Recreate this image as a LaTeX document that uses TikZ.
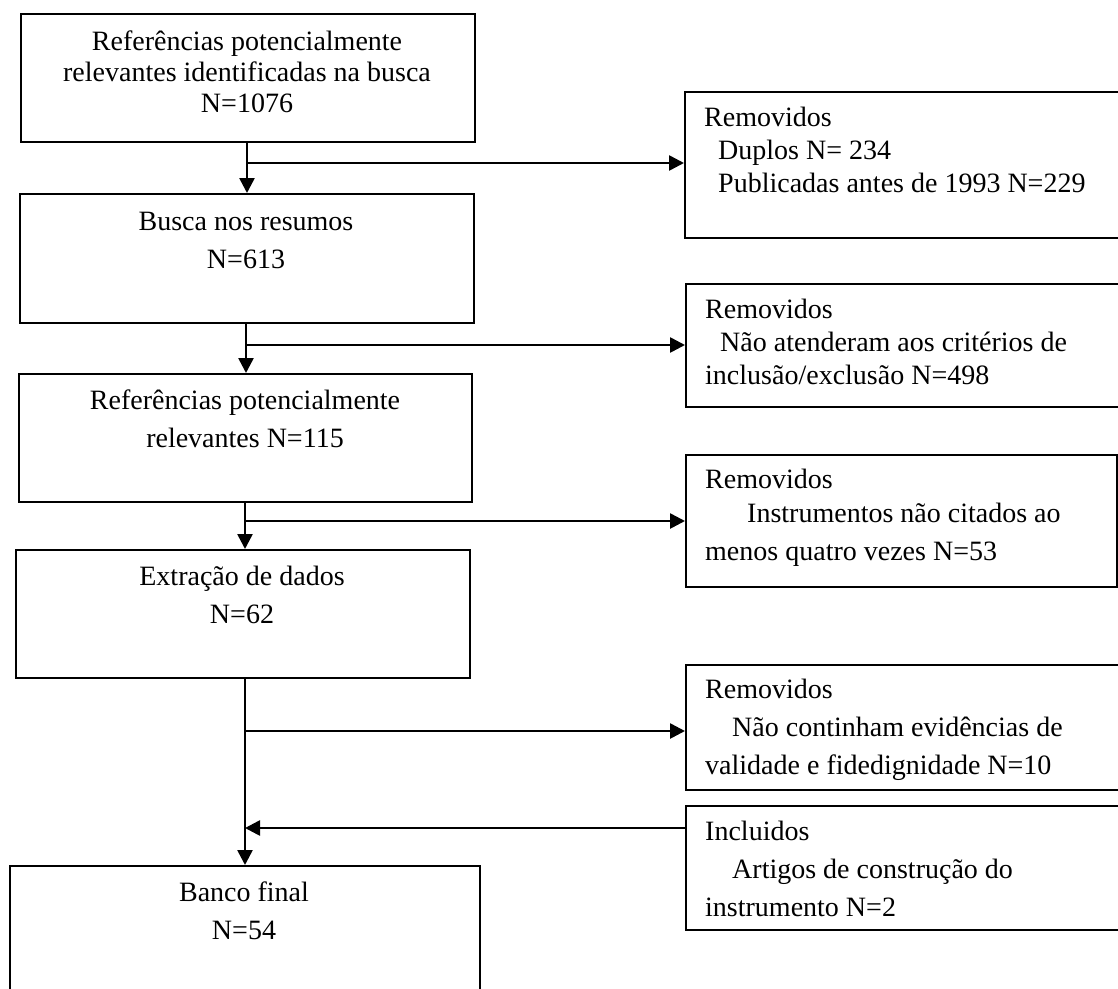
\documentclass[tikz,border=0pt]{standalone}
\usepackage{fontspec}
\setmainfont{Liberation Serif}
\usetikzlibrary{arrows.meta}
\begin{document}
\begin{tikzpicture}[x=1pt,y=-1pt,
  box/.style={draw=black,line width=2pt,rectangle,inner sep=0pt,anchor=north west},
  txt/.style={inner sep=0pt,font=\fontsize{28}{33}\selectfont},
  ctxt/.style={txt,anchor=base},
  ltxt/.style={txt,anchor=base west},
  conn/.style={line width=2.6pt},
  arr/.style={conn,-{Triangle[length=15pt,width=15pt]}}]
\useasboundingbox (0,0) rectangle (1118,988);
\clip (0,0) rectangle (1118,988);
% left column boxes
\node[box,minimum width=454pt,minimum height=128pt] (b1) at (20,13) {};
\node[box,minimum width=454pt,minimum height=129pt] (b2) at (19,193) {};
\node[box,minimum width=453pt,minimum height=128pt] (b3) at (18,373) {};
\node[box,minimum width=454pt,minimum height=128pt] (b4) at (15,549) {};
\node[box,minimum width=470pt,minimum height=140pt] (b5) at (9,865) {};
% right column boxes
\node[box,minimum width=460pt,minimum height=146pt] (r1) at (684,91) {};
\node[box,minimum width=460pt,minimum height=123pt] (r2) at (685,283) {};
\node[box,minimum width=431pt,minimum height=132pt] (r3) at (685,454) {};
\node[box,minimum width=460pt,minimum height=125pt] (r4) at (685,664) {};
\node[box,minimum width=460pt,minimum height=124pt] (r5) at (685,805) {};
% left texts
\node[ctxt] (t1a) at (247,50) {Referências potencialmente};
\node[ctxt] (t1b) at (247,81) {relevantes identificadas na busca};
\node[ctxt] (t1c) at (247,112) {N=1076};
\node[ctxt] (t2a) at (246,230) {Busca nos resumos};
\node[ctxt] (t2b) at (246,268) {N=613};
\node[ctxt] (t3a) at (245,409) {Referências potencialmente};
\node[ctxt] (t3b) at (245,447) {relevantes N=115};
\node[ctxt] (t4a) at (242,585) {Extração de dados};
\node[ctxt] (t4b) at (242,623) {N=62};
\node[ctxt] (t5a) at (244,901) {Banco final};
\node[ctxt] (t5b) at (244,939) {N=54};
% right texts
\node[ltxt] (s1a) at (704,126) {Removidos};
\node[ltxt] (s1b) at (718,159) {Duplos N= 234};
\node[ltxt] (s1c) at (718,192) {Publicadas antes de 1993 N=229};
\node[ltxt] (s2a) at (705,318) {Removidos};
\node[ltxt] (s2b) at (720,351) {Não atenderam aos critérios de};
\node[ltxt] (s2c) at (705,384) {inclusão/exclusão N=498};
\node[ltxt] (s3a) at (705,488) {Removidos};
\node[ltxt] (s3b) at (747,522) {Instrumentos não citados ao};
\node[ltxt] (s3c) at (705,560) {menos quatro vezes N=53};
\node[ltxt] (s4a) at (705,698) {Removidos};
\node[ltxt] (s4b) at (732,736) {Não continham evidências de};
\node[ltxt] (s4c) at (705,774) {validade e fidedignidade N=10};
\node[ltxt] (s5a) at (705,840) {Incluidos};
\node[ltxt] (s5b) at (732,878) {Artigos de construção do};
\node[ltxt] (s5c) at (705,916) {instrumento N=2};
% junction coordinates
\coordinate (j1) at (247,163);
\coordinate (j2) at (246,345);
\coordinate (j3) at (245,521);
\coordinate (j4) at (245,731);
\coordinate (j5) at (245,828);
% connectors
\draw[arr] (b1.south -| j1) -- (b2.north -| j1);
\draw[arr] (j1) -- (r1.west |- j1);
\draw[arr] (b2.south -| j2) -- (b3.north -| j2);
\draw[arr] (j2) -- (r2.west |- j2);
\draw[arr] (b3.south -| j3) -- (b4.north -| j3);
\draw[arr] (j3) -- (r3.west |- j3);
\draw[arr] (b4.south -| j4) -- (b5.north -| j4);
\draw[arr] (j4) -- (r4.west |- j4);
\draw[arr] (r5.west |- j5) -- (j5);
\end{tikzpicture}
\end{document}
